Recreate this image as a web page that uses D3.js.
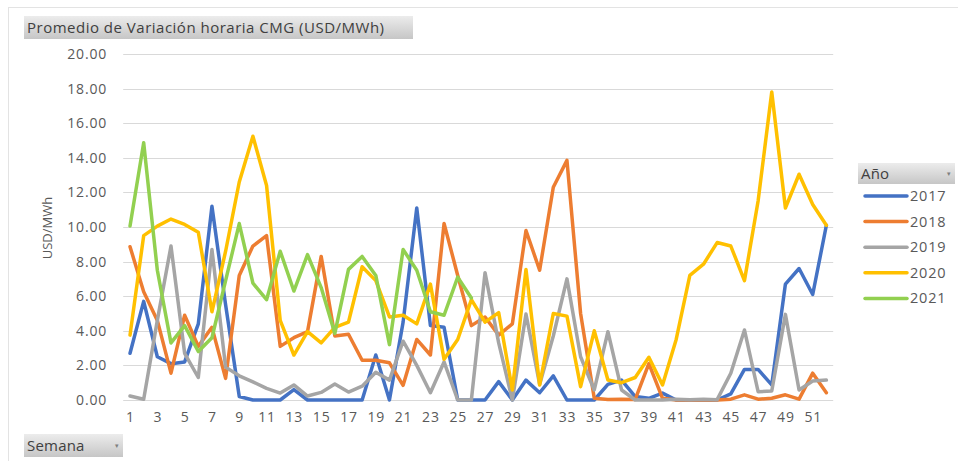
<!DOCTYPE html>
<html>
<head>
<meta charset="utf-8">
<script src="https://cdn.jsdelivr.net/npm/d3@7"></script>
<style>
  body { margin: 0; background: #fff; }
  svg text { font-family: 'Open Sans', sans-serif; fill: #595959; }
</style>
</head>
<body>
<div id="chart"></div>
<script>
const weeks = [1, 2, 3, 4, 5, 6, 7, 8, 9, 10, 11, 12, 13, 14, 15, 16, 17, 18, 19, 20, 21, 22, 23, 24, 25, 26,
  27, 28, 29, 30, 31, 32, 33, 34, 35, 36, 37, 38, 39, 40, 41, 42, 43, 44, 45, 46, 47, 48, 49, 50, 51, 52];
const years = [`2017`, `2018`, `2019`, `2020`, `2021`];
const colors = [`#4472c4`, `#ed7d31`, `#a5a5a5`, `#ffc000`, `#92d050`];
const yTicks = [0, 2, 4, 6, 8, 10, 12, 14, 16, 18, 20];

const s2017 = [2.7, 5.7, 2.5, 2.1, 2.2, 4.4, 11.2, 5.5, 0.2, 0, 0, 0, 0.6, 0, 0, 0, 0, 0, 2.6, 0,
  4.5, 11.1, 4.3, 4.2, 0, 0, 0, 1.06, 0, 1.15, 0.42, 1.4, 0, 0, 0, 0.9, 1.15, 0.2, 0.1, 0.4,
  0, 0, 0, 0, 0.35, 1.77, 1.77, 0.87, 6.7, 7.6, 6.1, 10.1];
const s2018 = [8.86, 6.26, 4.6, 1.55, 4.9, 3.1, 4.2, 1.25, 7.2, 8.9, 9.5, 3.1, 3.6, 3.95, 8.3, 3.7, 3.8, 2.3, 2.3, 2.15,
  0.85, 3.5, 2.6, 10.2, 7.2, 4.3, 4.8, 3.75, 4.4, 9.8, 7.5, 12.3, 13.85, 5.0, 0.1, 0.03, 0.05, 0.03, 2.1, 0.1,
  0, 0, 0, 0, 0.05, 0.3, 0.05, 0.1, 0.3, 0.05, 1.55, 0.42];
const s2019 = [0.23, 0.04, 4.6, 8.9, 2.7, 1.3, 8.7, 1.9, 1.4, 1.05, 0.67, 0.4, 0.87, 0.23, 0.44, 0.92, 0.46, 0.8, 1.6, 1.15,
  3.4, 2.0, 0.42, 2.2, 0, 0, 7.36, 3.3, 0, 4.97, 0.9, 3.7, 7.0, 2.5, 0.58, 3.95, 0.58, 0, 0, 0,
  0.05, 0.02, 0.05, 0.02, 1.55, 4.05, 0.48, 0.52, 4.95, 0.58, 1.1, 1.15];
const s2020 = [3.75, 9.5, 10.05, 10.46, 10.15, 9.7, 5.1, 8.6, 12.6, 15.25, 12.4, 4.6, 2.6, 3.95, 3.3, 4.2, 4.5, 7.7, 6.9, 4.8,
  4.9, 4.4, 6.7, 2.35, 3.5, 5.8, 4.5, 5.05, 0.58, 7.55, 0.87, 5.0, 4.85, 0.77, 4.0, 1.16, 1.0, 1.3, 2.47, 0.87,
  3.5, 7.2, 7.85, 9.1, 8.9, 6.9, 11.5, 17.8, 11.1, 13.05, 11.3, 10.1];
const s2021 = [10.06, 14.87, 7.5, 3.3, 4.3, 2.8, 3.6, 6.9, 10.2, 6.75, 5.8, 8.6, 6.3, 8.4, 6.5, 3.85, 7.55, 8.3, 7.2, 3.2,
  8.7, 7.5, 5.1, 4.9, 7.1, 5.9, null, null, null, null, null, null, null, null, null, null, null, null, null, null,
  null, null, null, null, null, null, null, null, null, null, null, null];

const seriesValues = [s2017, s2018, s2019, s2020, s2021];

class LineChart {
  constructor(el) {
    this.el = el;
    this.width = 958;
    this.height = 461;
    this.plot = {left: 123.2, right: 833.2, top: 54, bottom: 400};
    this.svg = d3.select(this.el)
      .append(`svg`)
        .attr(`width`, this.width)
        .attr(`height`, this.height);
  }

  setScales() {
    this.x = d3.scalePoint()
      .domain(weeks)
      .range([this.plot.left, this.plot.right])
      .padding(0.5);

    this.y = d3.scaleLinear()
      .domain([0, 20])
      .range([this.plot.bottom, this.plot.top]);
  }

  drawFrame() {
    const defs = this.svg.append(`defs`);
    const grad = defs.append(`linearGradient`)
      .attr(`id`, `btn`)
      .attr(`x1`, 0).attr(`y1`, 0).attr(`x2`, 0).attr(`y2`, 1);
    grad.append(`stop`).attr(`offset`, `0%`).attr(`stop-color`, `#ececec`);
    grad.append(`stop`).attr(`offset`, `100%`).attr(`stop-color`, `#c6c6c6`);

    this.svg.append(`rect`)
      .attr(`x`, 8.5).attr(`y`, 7.5)
      .attr(`width`, 980).attr(`height`, 480)
      .attr(`fill`, `none`)
      .attr(`stroke`, `#e3e3e3`);

    // field buttons
    const button = (x, y, w, h, label, arrow, spacing) => {
      const g = this.svg.append(`g`);
      g.append(`rect`)
        .attr(`x`, x).attr(`y`, y)
        .attr(`width`, w).attr(`height`, h)
        .attr(`fill`, `url(#btn)`);
      g.append(`text`)
        .attr(`x`, x + 3).attr(`y`, y + h / 2)
        .attr(`dy`, `0.35em`)
        .style(`font-size`, `15px`)
        .style(`letter-spacing`, `${spacing}px`)
        .style(`fill`, `#404040`)
        .text(label);
      if (arrow) {
        g.append(`text`)
          .attr(`x`, x + w - 8).attr(`y`, y + h / 2 + 2)
          .style(`font-size`, `7px`)
          .style(`fill`, `#7f7f7f`)
          .text(`▾`);
      }
    };

    button(24, 16, 389, 23, `Promedio de Variación horaria CMG (USD/MWh)`, false, 0.5);
    button(24, 434, 99, 23, `Semana`, true, 0.2);
    button(858, 163, 97, 21, `Año`, true, 0.2);
  }

  drawAxes() {
    this.svg.append(`g`)
      .attr(`class`, `grid`)
      .selectAll(`line`)
      .data(yTicks)
      .enter().append(`line`)
        .attr(`x1`, this.plot.left)
        .attr(`x2`, this.plot.right)
        .attr(`y1`, d => Math.round(this.y(d)) + 0.5)
        .attr(`y2`, d => Math.round(this.y(d)) + 0.5)
        .attr(`stroke`, `#d9d9d9`)
        .attr(`stroke-width`, 1);

    const yAxis = this.svg.append(`g`)
      .attr(`transform`, `translate(107,0)`)
      .call(d3.axisLeft(this.y).tickValues(yTicks).tickSize(0).tickPadding(0).tickFormat(d3.format(`.2f`)));
    yAxis.select(`.domain`).remove();
    yAxis.selectAll(`text`)
      .style(`font-size`, `14px`)
      .style(`letter-spacing`, `0.8px`)
      .style(`fill`, `#595959`);

    const xAxis = this.svg.append(`g`)
      .attr(`transform`, `translate(0,${this.plot.bottom})`)
      .call(d3.axisBottom(this.x).tickValues(weeks.filter(w => w % 2 === 1)).tickSize(0).tickPadding(12));
    xAxis.select(`.domain`).remove();
    xAxis.selectAll(`text`)
      .style(`font-size`, `14px`)
      .style(`letter-spacing`, `0.8px`)
      .style(`fill`, `#595959`);

    this.svg.append(`text`)
      .attr(`transform`, `translate(52,228) rotate(-90)`)
      .attr(`text-anchor`, `middle`)
      .style(`font-size`, `13px`)
      .style(`fill`, `#595959`)
      .text(`USD/MWh`);
  }

  drawLines() {
    const line = d3.line()
      .defined(d => d.v !== null)
      .x(d => this.x(d.w))
      .y(d => this.y(d.v));

    const series = years.map((year, i) => ({
      key: year,
      color: colors[i],
      values: weeks.map((w, j) => ({w, v: seriesValues[i][j]})),
    }));

    this.svg.append(`g`)
      .selectAll(`path`)
      .data(series)
      .enter().append(`path`)
        .attr(`d`, d => line(d.values))
        .attr(`fill`, `none`)
        .attr(`stroke`, d => d.color)
        .attr(`stroke-width`, 3.5)
        .attr(`stroke-linejoin`, `round`)
        .attr(`stroke-linecap`, `round`);

    const legend = this.svg.append(`g`)
      .selectAll(`g`)
      .data(series)
      .enter().append(`g`)
        .attr(`transform`, (d, i) => `translate(865,${196 + i * 25.6})`);

    legend.append(`line`)
      .attr(`x1`, 0).attr(`x2`, 42)
      .attr(`stroke`, d => d.color)
      .attr(`stroke-width`, 3.5)
      .attr(`stroke-linecap`, `round`);

    legend.append(`text`)
      .attr(`x`, 45)
      .attr(`dy`, `0.35em`)
      .style(`font-size`, `14.5px`)
      .style(`letter-spacing`, `0.8px`)
      .style(`fill`, `#595959`)
      .text(d => d.key);
  }

  render() {
    this.setScales();
    this.drawFrame();
    this.drawAxes();
    this.drawLines();
  }
}

new LineChart(`#chart`).render();
</script>
</body>
</html>
